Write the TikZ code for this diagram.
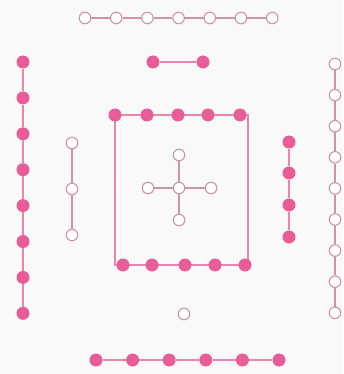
\documentclass[tikz,border=0pt]{standalone}
\usepackage{tikz}

\definecolor{dotpink}{RGB}{232,92,152}
\definecolor{linepink}{RGB}{230,135,175}
\definecolor{ringpink}{RGB}{206,146,170}
\definecolor{paper}{RGB}{250,249,250}

\begin{document}
\begin{tikzpicture}[x=1pt, y=-1pt,
    full/.style={circle, fill=dotpink, inner sep=0pt, minimum size=13pt},
    hollow/.style={circle, draw=ringpink, fill=white, line width=1.1pt, inner sep=0pt, minimum size=11.5pt},
    link/.style={linepink, line width=1.3pt},
    thin link/.style={ringpink, line width=1.1pt}]
    \fill[paper] (0,0) rectangle (343,374);
    \useasboundingbox (0,0) rectangle (343,374);

    % top row
    \foreach \i in {1,...,7}
      \node[hollow] (top\i) at ({85+31.2*(\i-1)},18) {};
    \foreach \i in {1,...,6} {
      \pgfmathtruncatemacro\j{\i+1}
      \draw[thin link] (top\i) -- (top\j);
    }

    % pair
    \node[full] (pa) at (153,62) {};
    \node[full] (pb) at (203,62) {};
    \draw[link] (pa) -- (pb);

    % left column
    \foreach \i in {1,...,8}
      \node[full] (lc\i) at (23,{62+35.9*(\i-1)}) {};
    \foreach \i in {1,...,7} {
      \pgfmathtruncatemacro\j{\i+1}
      \draw[link] (lc\i) -- (lc\j);
    }

    % frame
    \coordinate (fa) at (115,115);
    \coordinate (fb) at (248,265);
    \draw[link] (fa) rectangle (fb);
    \foreach \i/\x in {1/115,2/147,3/178,4/208,5/240}
      \node[full] (ft\i) at (\x,115) {};
    \foreach \i/\x in {1/123,2/152,3/185,4/215,5/245}
      \node[full] (fd\i) at (\x,265) {};

    % cross
    \node[hollow] (cc) at (179,188) {};
    \node[hollow] (cn) at (179,155) {};
    \node[hollow] (cs) at (179,220) {};
    \node[hollow] (cw) at (148,188) {};
    \node[hollow] (ce) at (211,188) {};
    \foreach \k in {cn,cs,cw,ce}
      \draw[thin link] (cc) -- (\k);

    % inner left
    \foreach \i/\y in {1/143,2/189,3/235}
      \node[hollow] (il\i) at (72,\y) {};
    \draw[thin link] (il1) -- (il2);
    \draw[thin link] (il2) -- (il3);

    % inner right
    \foreach \i/\y in {1/142,2/173,3/205,4/237}
      \node[full] (ir\i) at (289,\y) {};
    \foreach \i in {1,...,3} {
      \pgfmathtruncatemacro\j{\i+1}
      \draw[link] (ir\i) -- (ir\j);
    }

    % right column
    \foreach \i in {1,...,9}
      \node[hollow] (rc\i) at (335,{64+31.1*(\i-1)}) {};
    \foreach \i in {1,...,8} {
      \pgfmathtruncatemacro\j{\i+1}
      \draw[thin link] (rc\i) -- (rc\j);
    }

    % single
    \node[hollow] (one) at (184,314) {};

    % bottom row
    \foreach \i in {1,...,6}
      \node[full] (bot\i) at ({96+36.6*(\i-1)},360) {};
    \foreach \i in {1,...,5} {
      \pgfmathtruncatemacro\j{\i+1}
      \draw[link] (bot\i) -- (bot\j);
    }
\end{tikzpicture}
\end{document}
